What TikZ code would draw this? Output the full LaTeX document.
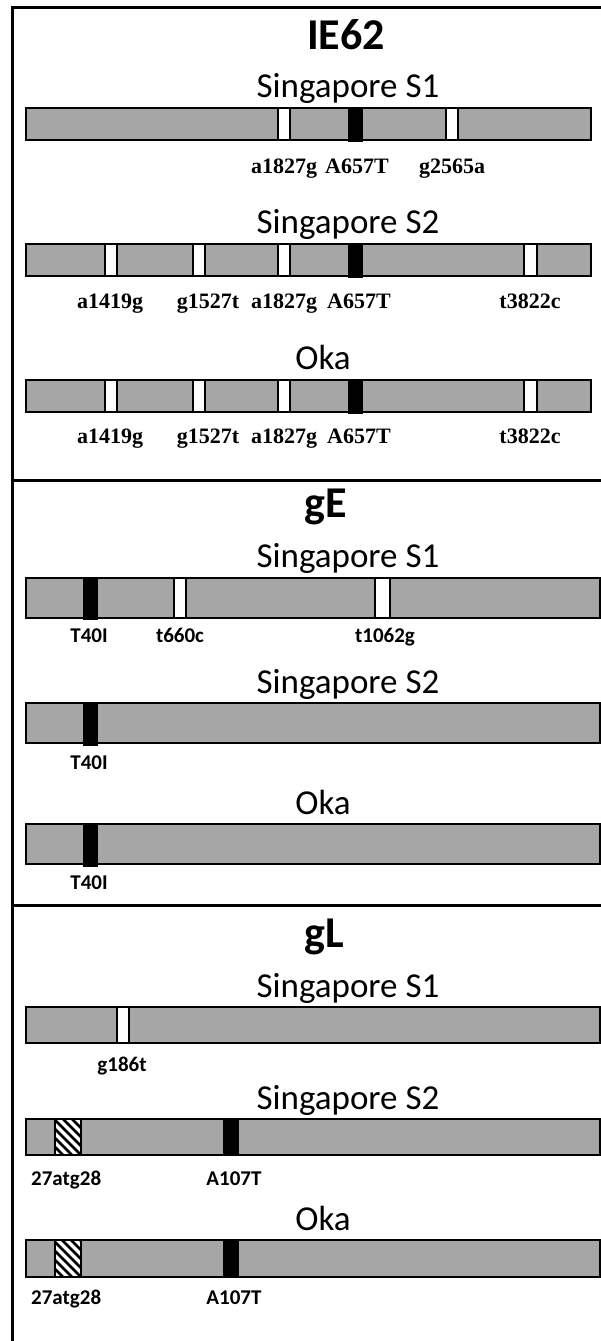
\documentclass[tikz,border=0pt]{standalone}
\usepackage{fontspec}
\usetikzlibrary{patterns.meta}
\setmainfont{Carlito}
\newfontfamily\serifbold{Liberation Serif}
\definecolor{barlight}{RGB}{196,196,196}
\definecolor{bardark}{RGB}{70,70,70}
\tikzset{
  x=1pt, y=-1pt,
  frameline/.style={line width=3pt, line cap=rect},
  genebar/.style={draw=black, line width=1.6pt, preaction={fill=barlight},
    pattern={Dots[distance=2pt, radius=0.65pt]}, pattern color=bardark},
  whitemark/.style={draw=black, line width=1.4pt, fill=white},
  blackmark/.style={draw=black, line width=1pt, fill=black},
  hatchmark/.style={draw=black, line width=1.4pt, fill=white},
  heading/.style={anchor=base, inner sep=0pt, font=\fontsize{44}{48}\selectfont\bfseries},
  strain/.style={anchor=base, inner sep=0pt, font=\fontsize{35}{40}\selectfont},
  snp/.style={anchor=base, inner sep=0pt, font=\serifbold\fontsize{22}{24}\selectfont\bfseries},
  aa/.style={anchor=base, inner sep=0pt, font=\fontsize{21}{24}\selectfont\bfseries},
}
\begin{document}
\begin{tikzpicture}
\useasboundingbox (0,0) rectangle (600,1341);

% outer frame and section dividers
\draw[frameline] (12.5,1345) -- (12.5,7) -- (605,7);
\draw[frameline] (12.5,480) -- (605,480);
\draw[frameline] (12.5,905) -- (605,905);

% ---------------- IE62 ----------------
\node[heading] (tIE) at (346,49) {IE62};

% Singapore S1
\node[strain] (ie1) at (348,97) {Singapore S1};
\draw[genebar] (26,108) rectangle (591,140);
\draw[whitemark] (278,108) rectangle (290,140);
\draw[blackmark] (348,107) rectangle (362,141);
\draw[whitemark] (446,108) rectangle (458,140);
\node[snp] (ie1a) at (284,173) {a1827g};
\node[snp] (ie1b) at (357,173) {A657T};
\node[snp] (ie1c) at (452,173) {g2565a};

% Singapore S2
\node[strain] (ie2) at (348,233) {Singapore S2};
\draw[genebar] (26,244) rectangle (591,276);
\foreach \xa/\xb in {105/117,193/205,278/290,524/537}
  \draw[whitemark] (\xa,244) rectangle (\xb,276);
\draw[blackmark] (348,243) rectangle (362,277);
\node[snp] (ie2a) at (110,308) {a1419g};
\node[snp] (ie2b) at (208,308) {g1527t};
\node[snp] (ie2c) at (284,308) {a1827g};
\node[snp] (ie2d) at (359,308) {A657T};
\node[snp] (ie2e) at (530,308) {t3822c};

% Oka
\node[strain] (ie3) at (323,369) {Oka};
\draw[genebar] (26,380) rectangle (591,412);
\foreach \xa/\xb in {105/117,193/205,278/290,524/537}
  \draw[whitemark] (\xa,380) rectangle (\xb,412);
\draw[blackmark] (348,379) rectangle (362,413);
\node[snp] (ie3a) at (110,443) {a1419g};
\node[snp] (ie3b) at (208,443) {g1527t};
\node[snp] (ie3c) at (284,443) {a1827g};
\node[snp] (ie3d) at (359,443) {A657T};
\node[snp] (ie3e) at (530,443) {t3822c};

% ---------------- gE ----------------
\node[heading] (tgE) at (326,517) {gE};

% Singapore S1
\node[strain] (ge1) at (348,567) {Singapore S1};
\draw[genebar] (26,578) rectangle (600,618);
\draw[blackmark] (83,578) rectangle (97,619);
\draw[whitemark] (174,578) rectangle (186,618);
\draw[whitemark] (375,578) rectangle (390,618);
\node[aa] (ge1a) at (89,642) {T40I};
\node[aa] (ge1b) at (180,642) {t660c};
\node[aa] (ge1c) at (385,642) {t1062g};

% Singapore S2
\node[strain] (ge2) at (348,693) {Singapore S2};
\draw[genebar] (26,703) rectangle (600,743);
\draw[blackmark] (83,703) rectangle (97,745);
\node[aa] (ge2a) at (89,769) {T40I};

% Oka
\node[strain] (ge3) at (323,814) {Oka};
\draw[genebar] (26,824) rectangle (600,864);
\draw[blackmark] (83,824) rectangle (97,866);
\node[aa] (ge3a) at (89,889) {T40I};

% ---------------- gL ----------------
\node[heading] (tgL) at (324,947) {gL};

% Singapore S1
\node[strain] (gl1) at (348,997) {Singapore S1};
\draw[genebar] (26,1007) rectangle (600,1043);
\draw[whitemark] (117,1007) rectangle (129,1043);
\node[aa] (gl1a) at (122,1071) {g186t};

% Singapore S2
\node[strain] (gl2) at (348,1109) {Singapore S2};
\draw[genebar] (26,1119) rectangle (600,1155);
\draw[hatchmark] (55,1119) rectangle (81,1155);
\begin{scope}
  \clip (55,1119) rectangle (81,1155);
  \foreach \s in {-36,-27,...,81}
    \draw[line width=2.6pt] (\s,1119) -- (\s+36,1155);
\end{scope}
\draw[black, line width=1.4pt] (55,1119) rectangle (81,1155);
\draw[blackmark] (223,1119) rectangle (238,1155);
\node[aa, anchor=base west] (gl2a) at (31,1185) {27atg28};
\node[aa] (gl2b) at (234,1185) {A107T};

% Oka
\node[strain] (gl3) at (323,1230) {Oka};
\draw[genebar] (26,1240) rectangle (600,1277);
\draw[hatchmark] (55,1240) rectangle (81,1277);
\begin{scope}
  \clip (55,1240) rectangle (81,1277);
  \foreach \s in {-37,-28,...,81}
    \draw[line width=2.6pt] (\s,1240) -- (\s+37,1277);
\end{scope}
\draw[black, line width=1.4pt] (55,1240) rectangle (81,1277);
\draw[blackmark] (223,1240) rectangle (238,1277);
\node[aa, anchor=base west] (gl3a) at (31,1304) {27atg28};
\node[aa] (gl3b) at (234,1304) {A107T};
\end{tikzpicture}
\end{document}
